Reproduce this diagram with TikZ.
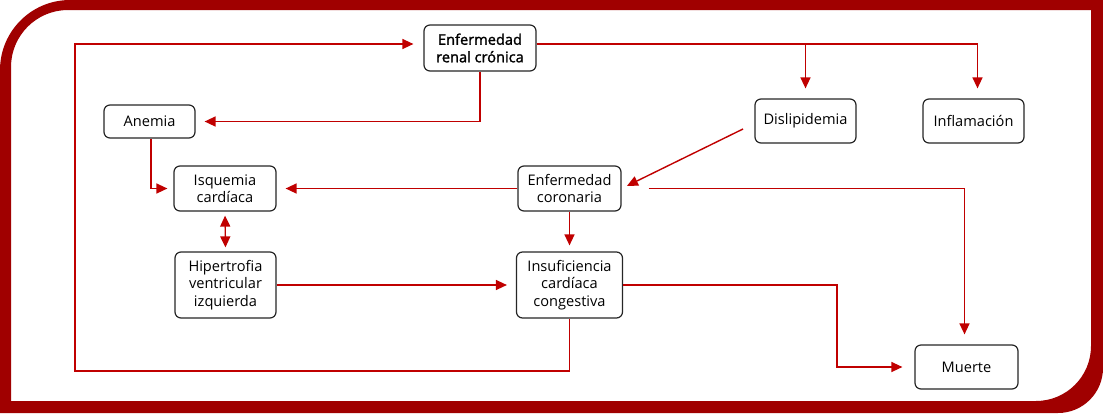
\documentclass[tikz,border=0pt]{standalone}
\usepackage{fontspec}
\setmainfont{Open Sans}
\newfontfamily\semibold[FakeBold=1.6]{Open Sans}
\usetikzlibrary{positioning,arrows.meta}
\definecolor{marco}{RGB}{160,0,0}
\definecolor{linea}{RGB}{192,0,0}

\begin{document}
\begin{tikzpicture}[x=1pt,y=-1pt,
  caja/.style={draw=black!85, line width=1.2pt, rounded corners=6pt, fill=white, align=center, inner sep=0pt,
    font=\fontsize{14.6pt}{17.5pt}\selectfont},
  flecha/.style={draw=linea, line width=1.4pt, -{Triangle[length=11pt,width=10pt]}, shorten >=8pt}]
  \useasboundingbox (0,0) rectangle (1103,413);
  \fill[marco, even odd rule]
    (0,413) [rounded corners=70pt] -- (0,0) -- (200,0) [sharp corners] -- (1103,0) -- (1103,200)
    [rounded corners=45pt] -- (1103,413) -- (900,413) [sharp corners] -- cycle
    (11,401) [rounded corners=57pt] -- (11,10) -- (200,10) [sharp corners] -- (1091,10) -- (1091,200)
    [rounded corners=55pt] -- (1091,401) -- (900,401) [sharp corners] -- cycle;

  \node[caja, minimum width=112pt, minimum height=46pt, font=\semibold\fontsize{14.6pt}{17.5pt}\selectfont] (erc) at (480,48) {Enfermedad\\renal crónica};
  \node[caja, minimum width=91pt, minimum height=33pt] (anemia) at (149.5,121.5) {Anemia};
  \node[caja, minimum width=101pt, minimum height=44pt] (disl) at (805.5,121) {Dislipidemia};
  \node[caja, minimum width=101pt, minimum height=44pt] (infl) at (973.5,121) {Inflamación};
  \node[caja, minimum width=102pt, minimum height=45pt] (isq) at (225,188.5) {Isquemia\\cardíaca};
  \node[caja, minimum width=103pt, minimum height=45pt] (cor) at (569.5,188.5) {Enfermedad\\coronaria};
  \node[caja, minimum width=101pt, minimum height=66pt] (hip) at (225.5,285) {Hipertrofia\\ventricular\\izquierda};
  \node[caja, minimum width=106pt, minimum height=66pt] (ins) at (569.5,285) {Insuficiencia\\cardíaca\\congestiva};
  \node[caja, minimum width=103pt, minimum height=44pt] (muerte) at (966.5,367) {Muerte};
  \coordinate (dtail) at (743,129);
  \coordinate (bucle) at (75,371);

  \draw[flecha, shorten >=10pt] ([yshift=4pt]erc.east) -| (disl.north);
  \draw[flecha, shorten >=10pt] ([yshift=4pt]erc.east) -| ([xshift=4pt]infl.north);
  \draw[flecha, shorten >=9pt] (erc.south) |- (anemia.east);
  \draw[flecha, shorten >=6pt] ([xshift=1.5pt]anemia.south) |- (isq.west);
  \draw[flecha, shorten >=9pt] (cor.west) -- (isq.east);
  \draw[flecha, shorten >=6pt] (dtail) -- (cor.east);
  \draw[flecha, shorten <=27pt, shorten >=10pt] (cor.east) -| ([xshift=-2pt]muerte.north);
  \draw[flecha, shorten >=6pt] (cor.south) -- (ins.north);
  \draw[flecha, {Triangle[length=11pt,width=10pt]}-{Triangle[length=11pt,width=10pt]}, shorten <=4pt, shorten >=4pt] (isq.south) -- (hip.north);
  \draw[flecha, shorten >=9pt] (hip.east) -- (ins.west);
  \draw[flecha, shorten >=12pt] (ins.east) -- ++(214,0) |- (muerte.west);
  \draw[flecha, shorten >=10pt] (ins.south) |- (bucle) |- ([yshift=4pt]erc.west);
\end{tikzpicture}
\end{document}
